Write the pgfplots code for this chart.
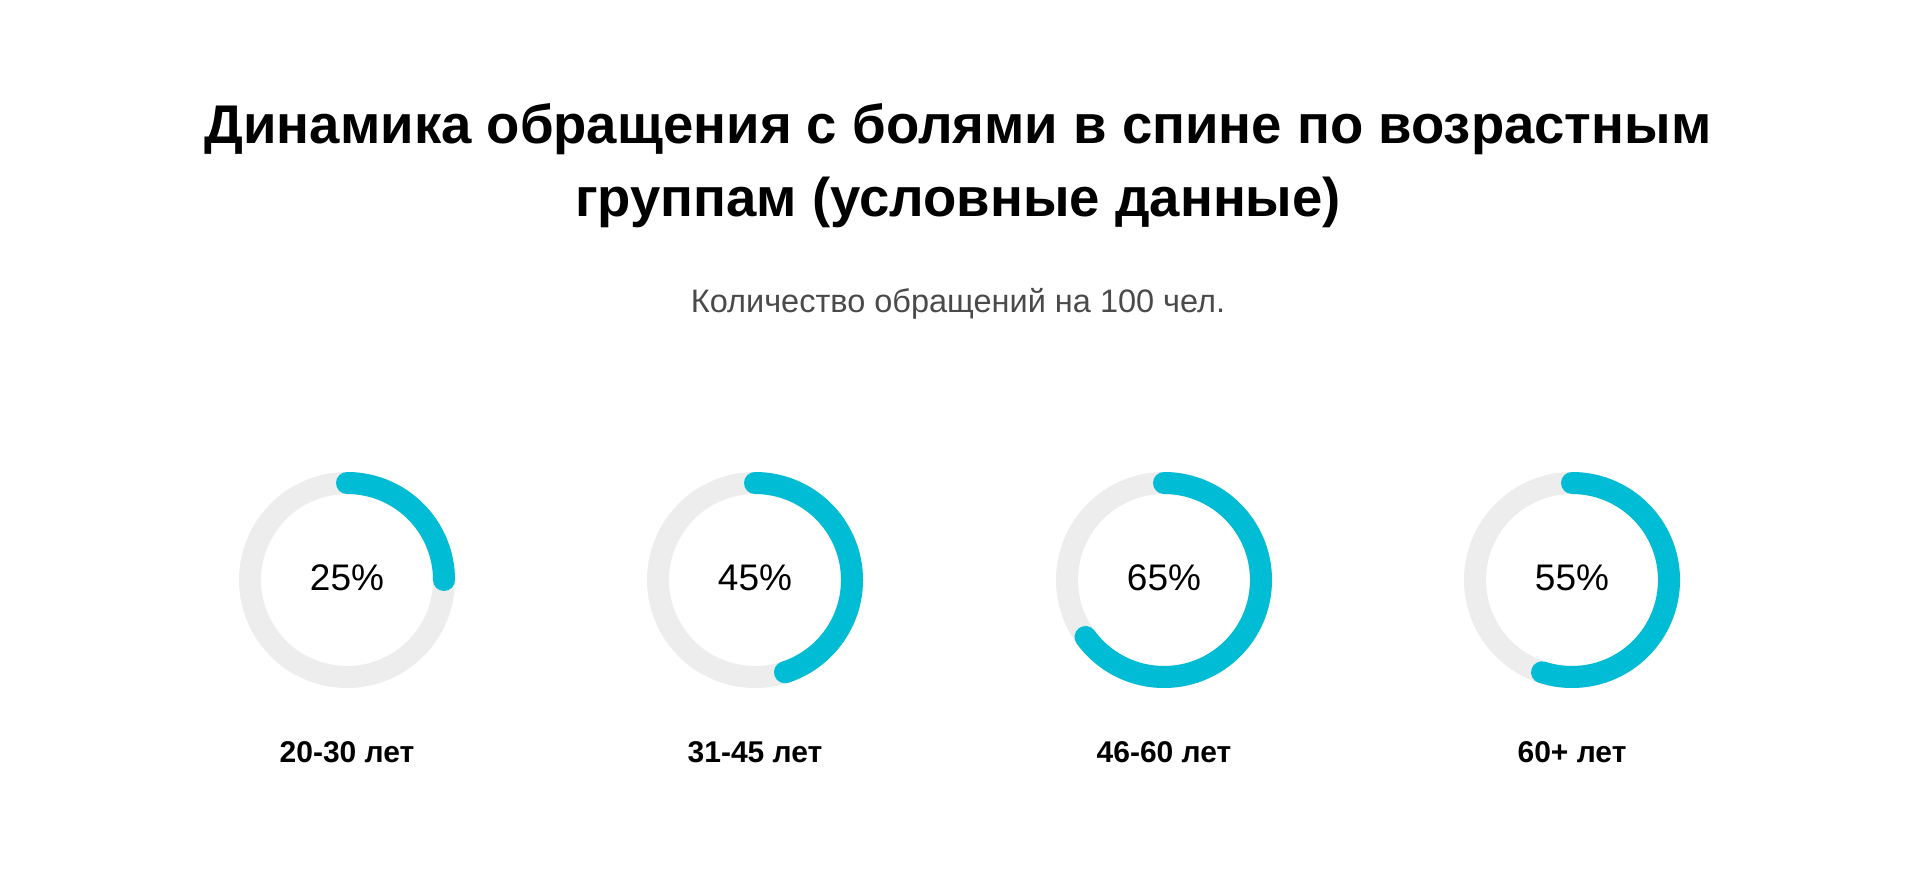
\documentclass[border=0pt]{standalone}
\usepackage{pgfplots}
\pgfplotsset{compat=1.18}
\usepackage{fontspec}
\setmainfont{Liberation Sans}
\definecolor{ringblue}{HTML}{00BCD4}
\definecolor{ringgray}{HTML}{EDEDED}
\definecolor{subgray}{HTML}{4A4A4A}
\begin{document}
\begin{tikzpicture}
\path[use as bounding box] (0,0) rectangle (1920pt,896pt);
\begin{axis}[
  anchor=south west, at={(0,0)},
  width=1920pt, height=896pt, scale only axis,
  xmin=0, xmax=1920, ymin=0, ymax=896, y dir=reverse,
  hide axis, clip=false,
]
% gray rings
\addplot[ringgray, line width=22pt, domain=0:360, samples=181] ({347+97*sin(x)},{580-97*cos(x)});
\addplot[ringgray, line width=22pt, domain=0:360, samples=181] ({755+97*sin(x)},{580-97*cos(x)});
\addplot[ringgray, line width=22pt, domain=0:360, samples=181] ({1164+97*sin(x)},{580-97*cos(x)});
\addplot[ringgray, line width=22pt, domain=0:360, samples=181] ({1572+97*sin(x)},{580-97*cos(x)});
% values: 25, 45, 65, 55 (%)
\addplot[ringblue, line width=22pt, line cap=round, domain=0:360*25/100, samples=91] ({347+97*sin(x)},{580-97*cos(x)});
\addplot[ringblue, line width=22pt, line cap=round, domain=0:360*45/100, samples=91] ({755+97*sin(x)},{580-97*cos(x)});
\addplot[ringblue, line width=22pt, line cap=round, domain=0:360*65/100, samples=121] ({1164+97*sin(x)},{580-97*cos(x)});
\addplot[ringblue, line width=22pt, line cap=round, domain=0:360*55/100, samples=121] ({1572+97*sin(x)},{580-97*cos(x)});
% centre values
\node[font=\fontsize{37}{44}\selectfont] at (axis cs:347,578) {25\%};
\node[font=\fontsize{37}{44}\selectfont] at (axis cs:755,578) {45\%};
\node[font=\fontsize{37}{44}\selectfont] at (axis cs:1164,578) {65\%};
\node[font=\fontsize{37}{44}\selectfont] at (axis cs:1572,578) {55\%};
% group labels
\node[font=\bfseries\fontsize{30}{36}\selectfont] at (axis cs:347,752) {20-30 лет};
\node[font=\bfseries\fontsize{30}{36}\selectfont] at (axis cs:755,752) {31-45 лет};
\node[font=\bfseries\fontsize{30}{36}\selectfont] at (axis cs:1164,752) {46-60 лет};
\node[font=\bfseries\fontsize{30}{36}\selectfont] at (axis cs:1572,752) {60+ лет};
% title and subtitle
\node[font=\bfseries\fontsize{54.5}{73}\selectfont, align=center] at (axis cs:958,166) {Динамика обращения с болями в спине по возрастным\\группам (условные данные)};
\node[font=\fontsize{32.5}{38}\selectfont, text=subgray] at (axis cs:958,304) {Количество обращений на 100 чел.};
\end{axis}
\end{tikzpicture}
\end{document}
